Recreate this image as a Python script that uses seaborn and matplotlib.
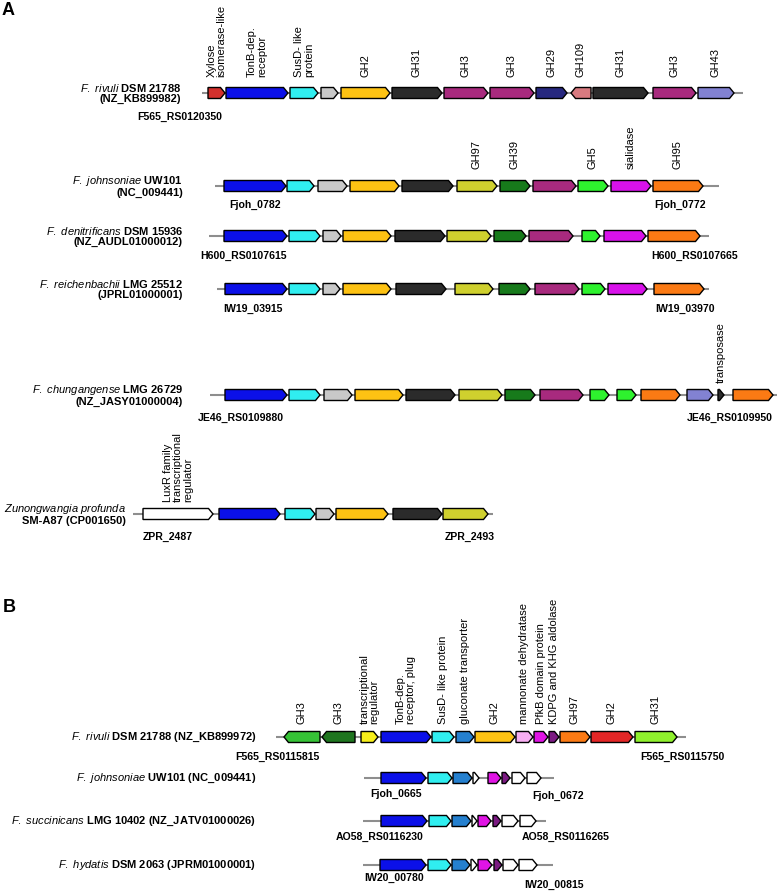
import matplotlib
matplotlib.use("Agg")
import matplotlib.pyplot as plt
import seaborn as sns
from matplotlib.patches import Polygon

sns.set_theme(style="white")
plt.rcParams["font.family"] = ["Liberation Sans", "DejaVu Sans"]
plt.rcParams["text.color"] = "black"
plt.rcParams["mathtext.fontset"] = "custom"
plt.rcParams["mathtext.it"] = "Liberation Sans:italic"
plt.rcParams["mathtext.rm"] = "Liberation Sans"
plt.rcParams["mathtext.bf"] = "Liberation Sans:bold"

# gene colours
COL = {
    "xyl": "#d3302c", "tonb": "#0b10e8", "susd": "#30eef0", "grey": "#c8c8c8",
    "gh2": "#fdc213", "gh31": "#2b2b2b", "gh3": "#a82a7e", "gh29": "#27287f",
    "gh109": "#d87a80", "gh43": "#8282d2", "gh97": "#cfd02e", "gh39": "#177a1b",
    "gh5": "#2ef22e", "sial": "#d812ea", "gh95": "#fb7a14", "white": "#ffffff",
    "gh3b": "#36c236", "gh3c": "#1f751f", "treg": "#f7ef1a", "gluc": "#2580cf",
    "mann": "#f7aef2", "pfkb": "#e014e4", "kdpg": "#7b1a82", "gh2r": "#e32626",
    "gh31b": "#8ff02d",
}

# ---- panel A ----  (start, end, strand, colour, label)
rivuli_a = [
    (208, 225, 1, "xyl", "Xylose\nisomerase-like"),
    (226, 288, 1, "tonb", "TonB-dep.\nreceptor"),
    (290, 318, 1, "susd", "SusD- like\nprotein"),
    (321, 338, 1, "grey", ""),
    (341, 390, 1, "gh2", "GH2"),
    (392, 442, 1, "gh31", "GH31"),
    (444, 488, 1, "gh3", "GH3"),
    (490, 534, 1, "gh3", "GH3"),
    (536, 567, 1, "gh29", "GH29"),
    (571, 591, -1, "gh109", "GH109"),
    (593, 648, 1, "gh31", "GH31"),
    (653, 696, 1, "gh3", "GH3"),
    (698, 734, 1, "gh43", "GH43"),
]
johnsoniae_a = [
    (224, 286, 1, "tonb", ""), (287, 314, 1, "susd", ""), (318, 347, 1, "grey", ""),
    (350, 399, 1, "gh2", ""), (402, 453, 1, "gh31", ""), (457, 497, 1, "gh97", "GH97"),
    (500, 530, 1, "gh39", "GH39"), (533, 576, 1, "gh3", ""), (578, 608, 1, "gh5", "GH5"),
    (611, 651, 1, "sial", "sialidase"), (653, 703, 1, "gh95", "GH95"),
]
denitrificans_a = [
    (224, 287, 1, "tonb", ""), (289, 320, 1, "susd", ""), (323, 341, 1, "grey", ""),
    (343, 391, 1, "gh2", ""), (395, 445, 1, "gh31", ""), (447, 491, 1, "gh97", ""),
    (494, 526, 1, "gh39", ""), (529, 573, 1, "gh3", ""), (582, 600, 1, "gh5", ""),
    (604, 646, 1, "sial", ""), (648, 700, 1, "gh95", ""),
]
reichenbachii_a = [
    (225, 287, 1, "tonb", ""), (289, 320, 1, "susd", ""), (323, 340, 1, "grey", ""),
    (343, 391, 1, "gh2", ""), (396, 446, 1, "gh31", ""), (455, 493, 1, "gh97", ""),
    (499, 530, 1, "gh39", ""), (535, 579, 1, "gh3", ""), (582, 605, 1, "gh5", ""),
    (608, 647, 1, "sial", ""), (654, 704, 1, "gh95", ""),
]
chungangense_a = [
    (225, 287, 1, "tonb", ""), (289, 320, 1, "susd", ""), (324, 352, 1, "grey", ""),
    (355, 403, 1, "gh2", ""), (406, 455, 1, "gh31", ""), (459, 502, 1, "gh97", ""),
    (505, 535, 1, "gh39", ""), (540, 583, 1, "gh3", ""), (590, 609, 1, "gh5", ""),
    (617, 636, 1, "gh5", ""), (641, 680, 1, "gh95", ""), (687, 713, 1, "gh43", ""),
    (718, 724, 1, "gh31", "transposase"), (733, 773, 1, "gh95", ""),
]
zunongwangia_a = [
    (143, 213, 1, "white", "LuxR family\ntranscriptional\nregulator"),
    (219, 280, 1, "tonb", ""), (285, 315, 1, "susd", ""), (316, 334, 1, "grey", ""),
    (336, 388, 1, "gh2", ""), (393, 442, 1, "gh31", ""), (443, 488, 1, "gh97", ""),
]

# ---- panel B ----
rivuli_b = [
    (284, 320, -1, "gh3b", "GH3"),
    (322, 355, -1, "gh3c", "GH3"),
    (361, 378, 1, "treg", "transcriptional\nregulator"),
    (381, 431, 1, "tonb", "TonB-dep.\nreceptor, plug"),
    (432, 454, 1, "susd", "SusD- like protein"),
    (456, 474, 1, "gluc", "gluconate transporter"),
    (475, 515, 1, "gh2", "GH2"),
    (516, 533, 1, "mann", "mannonate dehydratase"),
    (534, 548, 1, "pfkb", "PfkB domain protein"),
    (549, 559, 1, "kdpg", "KDPG and KHG aldolase"),
    (560, 590, 1, "gh95", "GH97"),
    (591, 633, 1, "gh2r", "GH2"),
    (635, 677, 1, "gh31b", "GH31"),
]
johnsoniae_b = [
    (381, 426, 1, "tonb", ""), (428, 452, 1, "susd", ""), (453, 472, 1, "gluc", ""),
    (473, 479, 1, "white", ""), (488, 501, 1, "pfkb", ""), (502, 510, 1, "kdpg", ""),
    (512, 525, 1, "white", ""), (527, 541, 1, "white", ""),
]
succinicans_b = [
    (381, 427, 1, "tonb", ""), (429, 451, 1, "susd", ""), (452, 471, 1, "gluc", ""),
    (472, 477, 1, "white", ""), (478, 491, 1, "pfkb", ""), (493, 501, 1, "kdpg", ""),
    (502, 518, 1, "white", ""), (520, 536, 1, "white", ""),
]
hydatis_b = [
    (380, 426, 1, "tonb", ""), (428, 451, 1, "susd", ""), (452, 470, 1, "gluc", ""),
    (471, 477, 1, "white", ""), (478, 492, 1, "pfkb", ""), (494, 502, 1, "kdpg", ""),
    (503, 518, 1, "white", ""), (519, 537, 1, "white", ""),
]

# species names: (italic part, rest)
species = [
    ("F. rivuli", "DSM 21788\n(NZ_KB899982)"),
    ("F. johnsoniae", "UW101\n(NC_009441)"),
    ("F. denitrificans", "DSM 15936\n(NZ_AUDL01000012)"),
    ("F. reichenbachii", "LMG 25512\n(JPRL01000001)"),
    ("F. chungangense", "LMG 26729\n(NZ_JASY01000004)"),
    ("Zunongwangia profunda", "\nSM-A87 (CP001650)"),
    ("F. rivuli", "DSM 21788 (NZ_KB899972)"),
    ("F. johnsoniae", "UW101 (NC_009441)"),
    ("F. succinicans", "LMG 10402 (NZ_JATV01000026)"),
    ("F. hydatis", "DSM 2063 (JPRM01000001)"),
]
# locus tags: (text, x, y)
tags = [
    [("F565_RS0120350", 180, 117)],
    [("Fjoh_0782", 255, 205), ("Fjoh_0772", 680, 205)],
    [("H600_RS0107615", 244, 256), ("H600_RS0107665", 695, 256)],
    [("IW19_03915", 253, 309), ("IW19_03970", 685, 309)],
    [("JE46_RS0109880", 241, 418), ("JE46_RS0109950", 730, 418)],
    [("ZPR_2487", 168, 537), ("ZPR_2493", 470, 537)],
    [("F565_RS0115815", 277, 757), ("F565_RS0115750", 682, 757)],
    [("Fjoh_0665", 396, 794), ("Fjoh_0672", 558, 796)],
    [("AO58_RS0116230", 380, 837), ("AO58_RS0116265", 566, 837)],
    [("IW20_00780", 394, 878), ("IW20_00815", 554, 885)],
]
rows = [rivuli_a, johnsoniae_a, denitrificans_a, reichenbachii_a, chungangense_a,
        zunongwangia_a, rivuli_b, johnsoniae_b, succinicans_b, hydatis_b]
backbone = [(202, 743), (215, 719), (209, 709), (217, 709), (210, 777),
            (133, 493), (276, 686), (364, 554), (363, 546), (363, 553)]

# layout: row centre, label bottom, species label right edge
row_y = [93, 186, 236, 289, 395, 514, 737, 778, 821, 865]
lab_y = [77, 169, 0, 0, 383, 502, 724, 0, 0, 0]
name_x = [181, 183, 183, 183, 183, 126, 256, 256, 256, 256]

H = 11
HL = 4.5

fig = plt.figure(figsize=(7.78, 8.91), dpi=100)
ax = fig.add_axes([0, 0, 1, 1])
ax.set_xlim(0, 778)
ax.set_ylim(891, 0)
ax.axis("off")


def arrow(x0, x1, y, strand, colour):
    hl = min(HL, x1 - x0)
    if strand > 0:
        pts = [(x0, y - H / 2), (x1 - hl, y - H / 2), (x1, y), (x1 - hl, y + H / 2), (x0, y + H / 2)]
    else:
        pts = [(x1, y - H / 2), (x0 + hl, y - H / 2), (x0, y), (x0 + hl, y + H / 2), (x1, y + H / 2)]
    ax.add_patch(Polygon(pts, closed=True, fc=colour, ec="black", lw=1.0,
                         joinstyle="miter", zorder=3))


for i, genes in enumerate(rows):
    y = row_y[i]
    ax.plot(backbone[i], [y, y], color="#8e8e8e", lw=1.5, zorder=1,
            solid_capstyle="butt")
    for (s, e, strand, c, lab) in genes:
        arrow(s, e, y, strand, COL[c])
        if lab:
            ax.text((s + e) / 2, lab_y[i], lab, rotation=90, ha="center", va="bottom",
                    multialignment="left", fontsize=8, linespacing=1.0, color="black")
    it, rest = species[i]
    it_tex = r"$\it{" + it.replace(" ", r"\ ") + "}$"
    if rest.startswith("\n"):
        txt = it_tex + rest
    else:
        first, *more = rest.split("\n")
        txt = it_tex + " " + first + ("\n" + more[0] if more else "")
    ax.text(name_x[i], y, txt, ha="right", va="center", multialignment="right",
            fontsize=8, fontweight="bold", linespacing=1.05, color="black")
    for (t, tx, ty) in tags[i]:
        ax.text(tx, ty, t, ha="center", va="center", fontsize=7.6,
                fontweight="bold", color="black")

ax.text(2, 15, "A", fontsize=13, fontweight="bold", va="baseline", color="black")
ax.text(3, 612, "B", fontsize=13, fontweight="bold", va="baseline", color="black")

fig.savefig("out.png", dpi=100)
